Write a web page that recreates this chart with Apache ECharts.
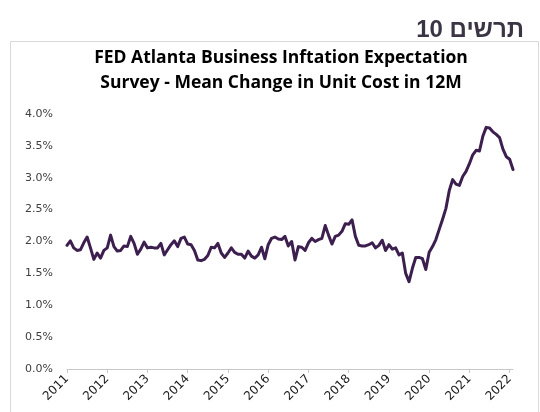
<!DOCTYPE html>
<html>
<head>
<meta charset="utf-8">
<script src="https://cdn.jsdelivr.net/npm/echarts@6/dist/echarts.min.js"></script>
<style>html,body{margin:0;padding:0;background:#fff}#c{width:540px;height:412px}</style>
</head>
<body>
<div id="c"></div>
<script>
const pageTitleWord = 'תרשים';
const pageTitleNum = '10';
const chartTitle = 'FED Atlanta Business Inftation Expectation\nSurvey - Mean Change in Unit Cost in 12M';
const years = ['2011','2012','2013','2014','2015','2016','2017','2018','2019','2020','2021','2022'];
const yTicks = [0, 0.5, 1.0, 1.5, 2.0, 2.5, 3.0, 3.5, 4.0];
const v2011 = [1.94, 2.01, 1.90, 1.86, 1.87, 1.98, 2.07, 1.90, 1.72, 1.82, 1.74, 1.86];
const v2012 = [1.90, 2.10, 1.92, 1.85, 1.86, 1.93, 1.92, 2.08, 1.97, 1.80, 1.88, 1.99];
const v2013 = [1.90, 1.91, 1.90, 1.90, 1.97, 1.79, 1.87, 1.95, 2.01, 1.92, 2.05, 2.07];
const v2014 = [1.96, 1.95, 1.86, 1.71, 1.70, 1.72, 1.78, 1.91, 1.90, 1.97, 1.82, 1.75];
const v2015 = [1.82, 1.90, 1.83, 1.80, 1.80, 1.74, 1.85, 1.77, 1.74, 1.79, 1.91, 1.73];
const v2016 = [1.95, 2.05, 2.07, 2.04, 2.03, 2.08, 1.93, 2.00, 1.71, 1.92, 1.91, 1.86];
const v2017 = [1.98, 2.05, 2.00, 2.03, 2.05, 2.25, 2.10, 1.96, 2.08, 2.10, 2.16, 2.28];
const v2018 = [2.27, 2.34, 2.08, 1.94, 1.93, 1.93, 1.95, 1.98, 1.90, 1.94, 2.02, 1.86];
const v2019 = [1.95, 1.88, 1.90, 1.79, 1.82, 1.50, 1.37, 1.58, 1.75, 1.75, 1.73, 1.56];
const v2020 = [1.83, 1.92, 2.03, 2.19, 2.35, 2.52, 2.80, 2.97, 2.90, 2.88, 3.02, 3.10];
const v2021 = [3.22, 3.36, 3.43, 3.42, 3.65, 3.79, 3.78, 3.72, 3.68, 3.63, 3.45, 3.33];
const v2022 = [3.29, 3.13];

const yearly = [v2011, v2012, v2013, v2014, v2015, v2016, v2017, v2018, v2019, v2020, v2021, v2022];
const cats = [];
const vals = [];
yearly.forEach((arr, yi) => {
  arr.forEach((v, mi) => {
    cats.push(years[yi] + '-' + String(mi + 1).padStart(2, '0'));
    vals.push(v);
  });
});
const isJan = (idx) => cats[idx].endsWith('-01');

const chart = echarts.init(document.getElementById('c'), null, {renderer: 'canvas'});
chart.setOption({
  backgroundColor: '#ffffff',
  animation: false,
  graphic: [{
    type: 'rect',
    shape: {x: 10.5, y: 41.5, width: 528, height: 390},
    style: {fill: 'none', stroke: '#d9d9d9', lineWidth: 1},
    silent: true
  }],
  title: [{
    text: '{n|' + pageTitleNum + '} {h|' + pageTitleWord + '}',
    right: 11,
    top: 13,
    textStyle: {
      fontFamily: 'Liberation Sans', fontWeight: 'bold', fontSize: 24, color: '#3b3444',
      rich: {
        n: {fontFamily: 'Liberation Sans', fontWeight: 'bold', fontSize: 24, color: '#3b3444'},
        h: {fontFamily: 'Liberation Sans', fontWeight: 'bold', fontSize: 24, color: '#3b3444'}
      }
    }
  }, {
    text: chartTitle,
    left: 276,
    textAlign: 'center',
    top: 41,
    textStyle: {fontFamily: 'Open Sans', fontWeight: 'bold', fontSize: 17.5, lineHeight: 25, color: '#000000'}
  }],
  grid: {left: 67, right: 27, top: 114, bottom: 43, containLabel: false},
  xAxis: {
    type: 'category',
    data: cats,
    boundaryGap: false,
    axisLine: {lineStyle: {color: '#c8c8c8', width: 1}},
    axisTick: {show: true, length: 4, interval: (idx) => isJan(idx), lineStyle: {color: '#c8c8c8'}},
    axisLabel: {
      interval: (idx) => isJan(idx),
      rotate: 45,
      margin: 8,
      fontFamily: 'DejaVu Sans',
      fontSize: 12,
      color: '#1a1a1a',
      formatter: (v) => v.slice(0, 4)
    },
    splitLine: {show: false}
  },
  yAxis: {
    type: 'value',
    min: yTicks[0],
    max: yTicks[yTicks.length - 1],
    interval: 0.5,
    axisLine: {show: false},
    axisTick: {show: false},
    splitLine: {show: false},
    axisLabel: {
      margin: 14,
      fontFamily: 'DejaVu Sans',
      fontSize: 11,
      color: '#404040',
      formatter: (v) => v.toFixed(1) + '%'
    }
  },
  series: [{
    type: 'line',
    data: vals,
    showSymbol: false,
    smooth: false,
    lineStyle: {color: '#3d1f4f', width: 3, join: 'round', cap: 'round'}
  }]
});
</script>
</body>
</html>
